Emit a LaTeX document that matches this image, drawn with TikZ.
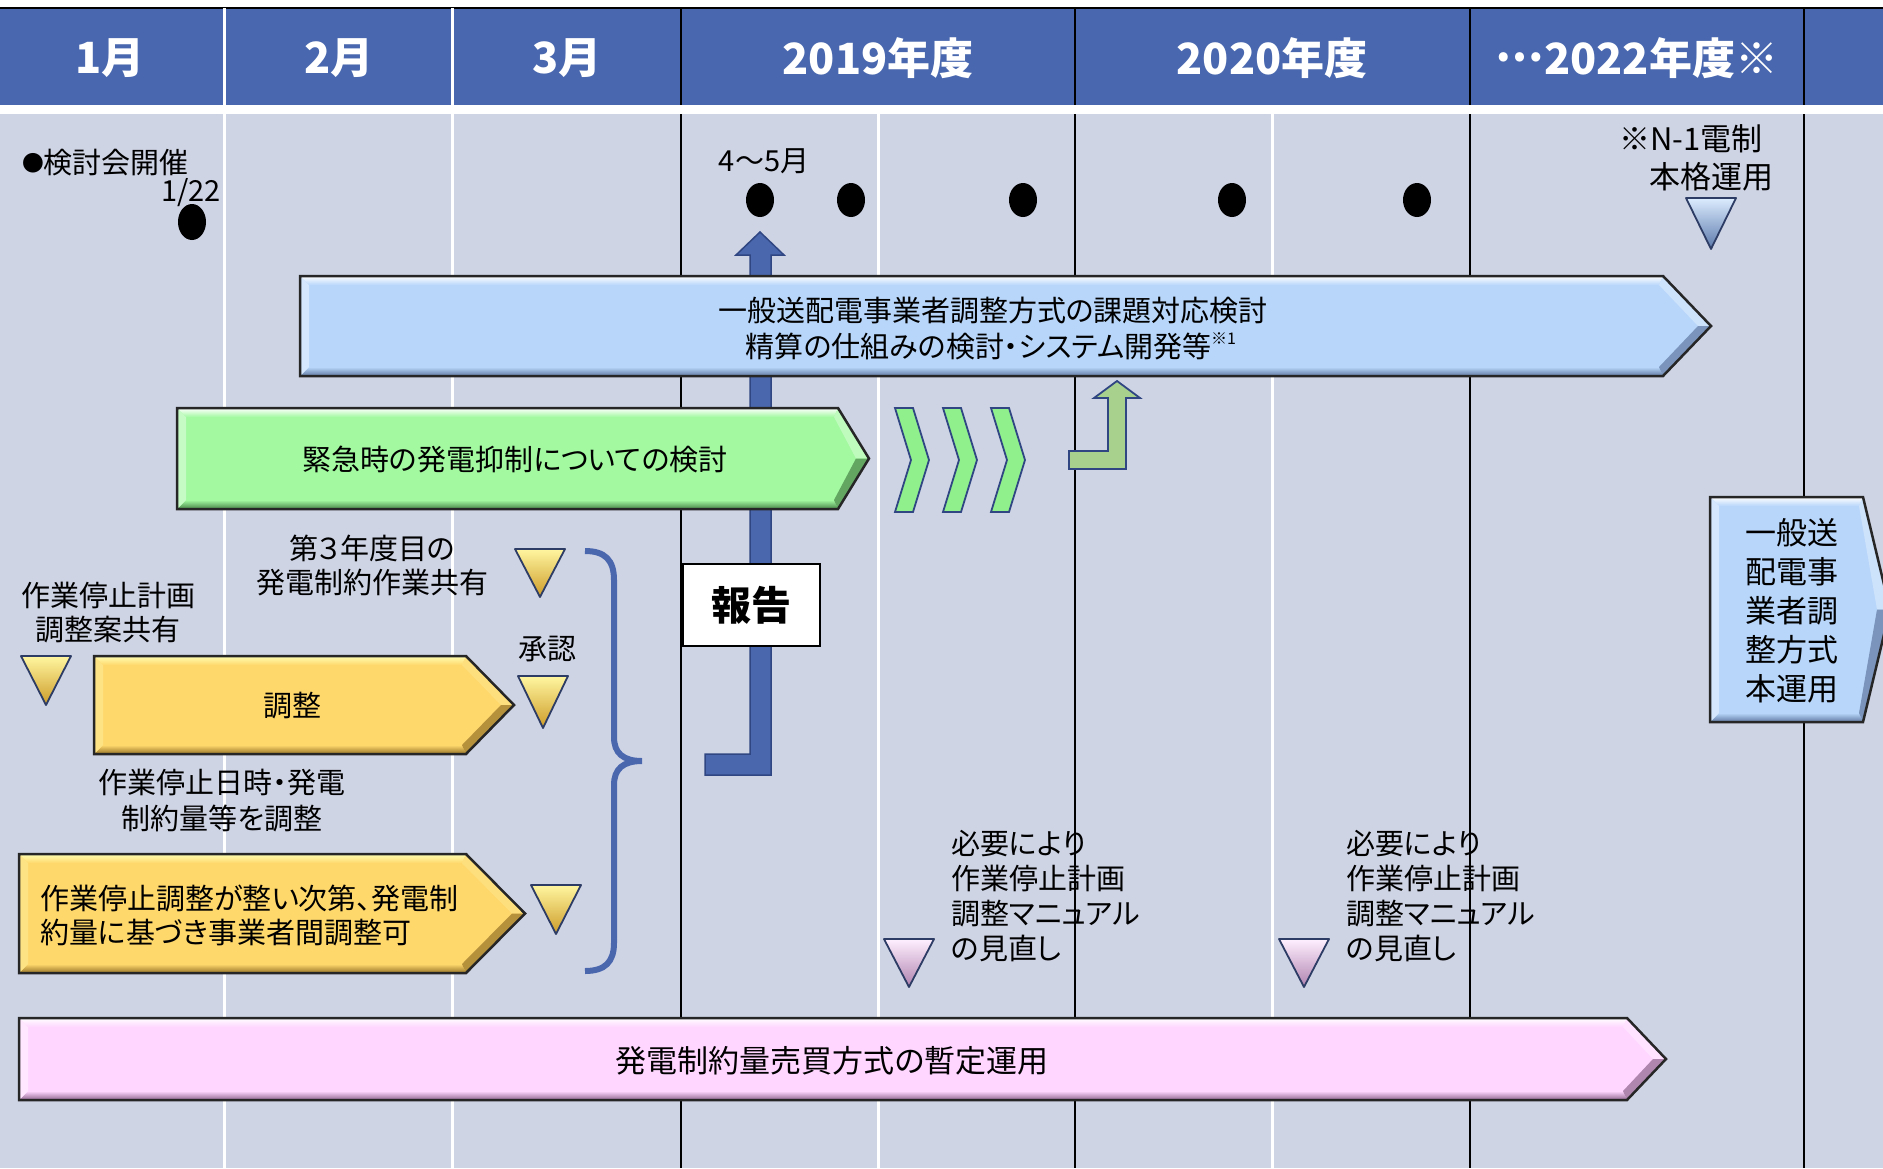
\documentclass[tikz,border=0pt]{standalone}
\usepackage{fontspec}
\setmainfont{Noto Sans CJK JP}[RawFeature=+palt]
\definecolor{hdr}{RGB}{72,103,174}
\definecolor{bodybg}{RGB}{207,212,229}
\definecolor{lblue}{RGB}{184,214,250}
\definecolor{dblue}{RGB}{95,120,160}
\definecolor{lgreen}{RGB}{162,249,160}
\definecolor{dgreen}{RGB}{70,130,70}
\definecolor{lyellow}{RGB}{255,216,108}
\definecolor{dyellow}{RGB}{150,115,40}
\definecolor{lpink}{RGB}{255,214,255}
\definecolor{dpink}{RGB}{140,100,140}
\definecolor{chev}{RGB}{144,240,140}
\definecolor{bentc}{RGB}{169,209,142}
\definecolor{navy}{RGB}{47,70,130}
\definecolor{rep}{RGB}{74,103,174}
\definecolor{trisd}{RGB}{45,60,100}
\definecolor{ytop}{RGB}{255,246,160}
\definecolor{ymid}{RGB}{252,212,80}
\definecolor{ybot}{RGB}{205,155,40}
\definecolor{ptop}{RGB}{255,240,255}
\definecolor{pmid}{RGB}{240,195,240}
\definecolor{pbot}{RGB}{175,130,175}
\definecolor{btop}{RGB}{220,236,255}
\definecolor{bmid}{RGB}{160,195,235}
\definecolor{bbot}{RGB}{90,120,170}
\newcommand\bevarrow[9]{%
% #1 name #2 L #3 T #4 B #5 E #6 X #7 base #8 dark #9 light
\coordinate (#1) at ({(#2+#6)/2},{(#3+#4)/2});
\fill[#7] (#2,#3) -- (#5,#3) -- (#6,{(#3+#4)/2}) -- (#5,#4) -- (#2,#4) -- cycle;
\shade[top color=#9, bottom color=#7] (#2,#3) -- (#5,#3) -- ({#5-4},{#3+9}) -- ({#2+9},{#3+9}) -- cycle;
\shade[top color=#7, bottom color=#8] ({#2+9},{#4-9}) -- ({#5-4},{#4-9}) -- (#5,#4) -- (#2,#4) -- cycle;
\fill[#9!40!#7] (#2,#3) -- ({#2+9},{#3+9}) -- ({#2+9},{#4-9}) -- (#2,#4) -- cycle;
\fill[#9!30!#7] (#5,#3) -- (#6,{(#3+#4)/2}) -- ({#6-13},{(#3+#4)/2}) -- ({#5-4},{#3+9}) -- cycle;
\fill[#8!70!#7] (#6,{(#3+#4)/2}) -- (#5,#4) -- ({#5-4},{#4-9}) -- ({#6-13},{(#3+#4)/2}) -- cycle;
\draw[line width=2.5, black!85, line join=miter] (#2,#3) -- (#5,#3) -- (#6,{(#3+#4)/2}) -- (#5,#4) -- (#2,#4) -- cycle;
}
\newcommand\mtri[7]{%
% #1 name #2 cx #3 top #4 bottom #5 top colour #6 middle #7 bottom
\shadedraw[draw=trisd, line width=1.8, line join=round, top color=#5, middle color=#6, bottom color=#7]
  ({#2-25},#3) -- ({#2+25},#3) -- (#2,#4) -- cycle;
\coordinate (#1) at (#2,{(#3+#4)/2});
}
\tikzset{
  txt/.style={font=\fontsize{29}{35}\selectfont, text=black, inner sep=0pt},
  hdrtxt/.style={font=\fontsize{43}{43}\selectfont\bfseries, text=white, inner sep=0pt},
  blk/.style={black, line width=2.5},
  wht/.style={white, line width=3},
}
\begin{document}
\begin{tikzpicture}[x=1pt,y=-1pt]
\useasboundingbox (0,0) rectangle (1883,1168);
\clip (0,0) rectangle (1883,1168);
% background
\fill[white] (0,0) rectangle (1883,1168);
\fill[hdr] (0,8) rectangle (1883,105);
\draw[black, line width=1.5] (0,8) -- (1883,8);
\fill[bodybg] (0,114) rectangle (1883,1168);
% header separators
\draw[wht] (224.6,8) -- (224.6,105);
\draw[wht] (452.7,8) -- (452.7,105);
\foreach \xx in {681,1075,1470,1804} \draw[blk] (\xx,8) -- (\xx,105);
% body lines
\foreach \xx in {224.6,452.7,878,1272} \draw[wht] (\xx,114) -- (\xx,1168);
\foreach \xx in {681,1075,1470,1804} \draw[blk] (\xx,114) -- (\xx,1168);
% header texts
\node[hdrtxt] (h1) at (110,58) {1月};
\node[hdrtxt] (h2) at (339,58) {2月};
\node[hdrtxt] (h3) at (567,58) {3月};
\node[hdrtxt] (h4) at (878,58) {2019年度};
\node[hdrtxt] (h5) at (1272,58) {2020年度};
\node[hdrtxt] (h6) at (1637,58) {\raisebox{0.3em}{…}2022年度※};
% meeting dots
\node[txt, anchor=west] (kentou) at (22,163) {\raisebox{0.08em}{\scalebox{0.75}{●}}検討会開催};
\node[txt, anchor=east] (d122) at (221,193) {1/22};
\fill[black] (192,222) ellipse [x radius=14pt, y radius=18pt];
\node[txt] (m45) at (764,161) {4～5月};
\foreach \xx in {760,851,1023,1232,1417} \fill[black] (\xx,200) ellipse [x radius=14pt, y radius=17pt];
% N-1
\node[txt, font=\fontsize{31}{35}\selectfont] (n1a) at (1691,139) {※N-1電制};
\node[txt, font=\fontsize{31}{35}\selectfont] (n1b) at (1711,177) {本格運用};
\mtri{tb}{1711}{198}{249}{btop}{bmid}{bbot}
% report arrow (drawn under the bars)
\draw[navy, line width=1.5, fill=rep, line join=miter] (760,232) -- (784,255) -- (771,255) -- (771,775) -- (705,775) -- (705,754) -- (750,754) -- (750,255) -- (736,255) -- cycle;
% big blue bar
\bevarrow{bluebar}{300}{276}{376}{1663}{1711}{lblue}{dblue}{white}
\node[txt] (bb1) at (993,311) {一般送配電事業者調整方式の課題対応検討};
\node[txt] (bb2) at (991,346) {精算の仕組みの検討・システム開発等\raisebox{0.45em}{\fontsize{16}{16}\selectfont ※1}};
% green bar
\bevarrow{greenbar}{177}{408}{509}{838}{869}{lgreen}{dgreen}{white}
\node[txt] (gb) at (515,460) {緊急時の発電抑制についての検討};
% chevrons
\foreach \cx in {895,943,991}
  \draw[navy, line width=1.8, fill=chev, line join=miter] (\cx,408) -- ({\cx+18},408) -- ({\cx+34},460) -- ({\cx+18},512) -- (\cx,512) -- ({\cx+16},460) -- cycle;
% bent arrow
\draw[navy, line width=1.8, fill=bentc, line join=miter] (1069,451) -- (1108,451) -- (1108,398) -- (1094,398) -- (1117,381) -- (1140,398) -- (1126,398) -- (1126,469) -- (1069,469) -- cycle;
% report box
\node[draw=black, line width=2.5, fill=white, minimum width=137pt, minimum height=82pt, inner sep=0pt, font=\fontsize{40}{40}\selectfont\bfseries] (report) at (751.5,605) {報告};
% left column items
\node[txt] (sa1) at (108,595) {作業停止計画};
\node[txt] (sa2) at (108,630) {調整案共有};
\mtri{ty1}{46}{656}{705}{ytop}{ymid}{ybot}
\node[txt] (th1) at (372,548) {第３年度目の};
\node[txt] (th2) at (372,583) {発電制約作業共有};
\mtri{ty2}{540}{549}{597}{ytop}{ymid}{ybot}
\node[txt] (shonin) at (547,649) {承認};
\mtri{ty3}{543}{676}{728}{ytop}{ymid}{ybot}
\bevarrow{ybar1}{94}{656}{754}{466}{514}{lyellow}{dyellow}{yellow!30!white}
\node[txt] (chosei) at (292,706) {調整};
\node[txt] (nj1) at (222,783) {作業停止日時・発電};
\node[txt] (nj2) at (222,818) {制約量等を調整};
\bevarrow{ybar2}{19}{854}{973}{466}{525}{lyellow}{dyellow}{yellow!30!white}
\node[txt, anchor=west] (yb2a) at (40,898) {作業停止調整が整い次第、発電制};
\node[txt, anchor=west] (yb2b) at (40,933) {約量に基づき事業者間調整可};
\mtri{ty4}{556}{885}{934}{ytop}{ymid}{ybot}
% brace
\draw[rep, line width=6] (585,551) .. controls (605,551) and (614,560) .. (614,580) -- (614,737)
  .. controls (614,753) and (623,761) .. (642,761)
  .. controls (623,761) and (614,769) .. (614,785) -- (614,943)
  .. controls (614,962) and (605,971) .. (585,971);
% pink markers
\mtri{tp1}{909}{939}{987}{ptop}{pmid}{pbot}
\mtri{tp2}{1304}{939}{987}{ptop}{pmid}{pbot}
\node[txt, anchor=west, align=left] (rv1) at (951,896) {必要により\\作業停止計画\\調整マニュアル\\の見直し};
\node[txt, anchor=west, align=left] (rv2) at (1346,896) {必要により\\作業停止計画\\調整マニュアル\\の見直し};
% pink bar
\bevarrow{pinkbar}{19}{1018}{1100}{1627}{1666}{lpink}{dpink}{white}
\node[txt, font=\fontsize{31}{35}\selectfont] (pb) at (832,1061) {発電制約量売買方式の暫定運用};
% right pentagon
\bevarrow{rbox}{1710}{497}{722}{1863}{1890}{lblue}{dblue}{white}
\node[txt, align=center, font=\fontsize{31}{39}\selectfont] (rb) at (1792,611) {一般送\\配電事\\業者調\\整方式\\本運用};
\end{tikzpicture}
\end{document}
